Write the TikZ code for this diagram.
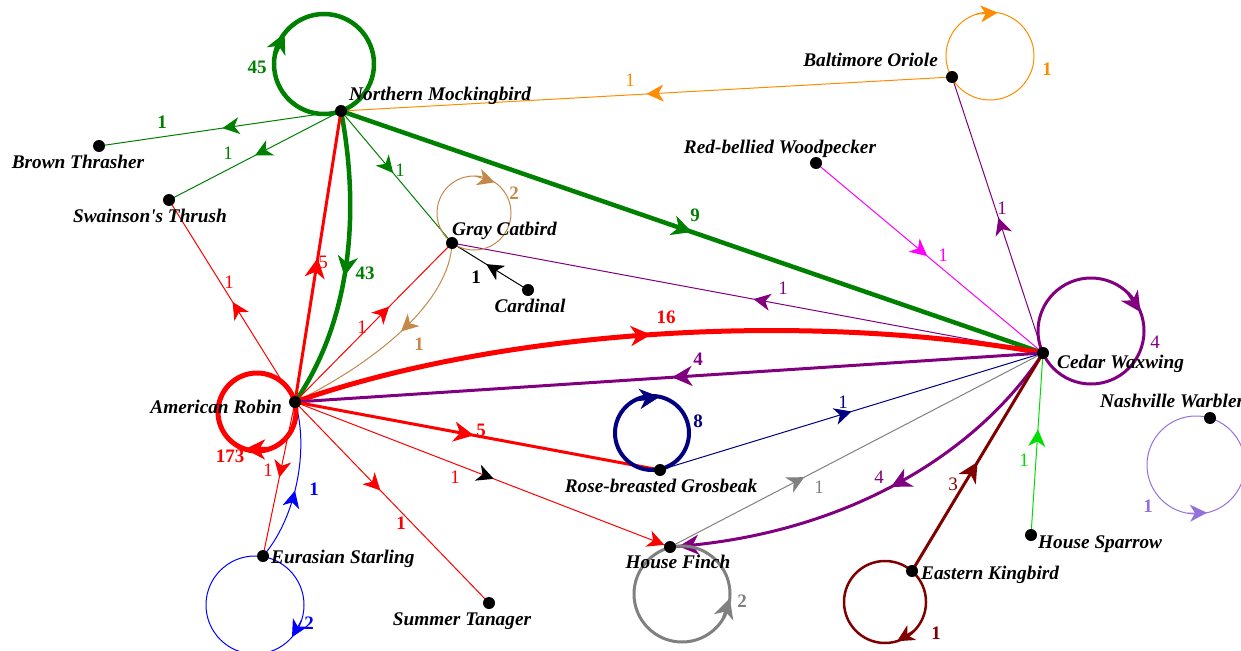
\documentclass[tikz,border=0pt]{standalone}
\usepackage{fontspec}
\setmainfont{Liberation Serif}
\usetikzlibrary{arrows.meta,decorations.markings}
\pgfdeclarelayer{bg}
\pgfsetlayers{bg,main}
\definecolor{cgreen}{HTML}{008000}
\definecolor{cred}{HTML}{FF0000}
\definecolor{corange}{HTML}{FF8C00}
\definecolor{cpurple}{HTML}{800080}
\definecolor{cmagenta}{HTML}{FF00FF}
\definecolor{cnavy}{HTML}{000080}
\definecolor{ctan}{HTML}{C4884A}
\definecolor{cgray}{HTML}{808080}
\definecolor{cmaroon}{HTML}{800000}
\definecolor{clime}{HTML}{00DD00}
\definecolor{cmpurple}{HTML}{9370DB}
\definecolor{cblue}{HTML}{0000FF}
\tikzset{
  dot/.style={circle,fill=black,inner sep=0pt,minimum size=12pt},
  nlab/.style={font=\bfseries\itshape\fontsize{19.3}{21}\selectfont,inner sep=0pt},
  elab/.style={font=\fontsize{19}{21}\selectfont,inner sep=0pt},
  belab/.style={font=\bfseries\fontsize{19}{21}\selectfont,inner sep=0pt},
  lw1/.style={line width=1pt},
  ma/.style={postaction={decorate},decoration={markings,mark=at position #1 with {\arrow{Stealth[length=17pt,width=17pt,inset=5pt]}}}},
  mab/.style={postaction={decorate},decoration={markings,mark=at position #1 with {\arrow{Stealth[length=20pt,width=20pt,inset=6pt]}}}},
  lar/.style={-{Stealth[length=17pt,width=17pt,inset=5pt]}},
  larb/.style={-{Stealth[length=20pt,width=20pt,inset=6pt]}}
}
\begin{document}
\begin{tikzpicture}[x=1pt,y=-1pt]
\useasboundingbox (0,0) rectangle (1241,650);
% nodes
\node[dot] (NM) at (341,111) {};
\node[dot] (BO) at (952,77) {};
\node[dot] (BT) at (99,146) {};
\node[dot] (ST) at (169,200) {};
\node[dot] (RBW) at (816,163) {};
\node[dot] (GC) at (452,243) {};
\node[dot] (CA) at (528,290) {};
\node[dot] (CW) at (1043,353) {};
\node[dot] (AR) at (295,402) {};
\node[dot] (NW) at (1210,418) {};
\node[dot] (RBG) at (660,470) {};
\node[dot] (HF) at (670,547) {};
\node[dot] (ES) at (263,556) {};
\node[dot] (HS) at (1031,535) {};
\node[dot] (EK) at (912,571) {};
\node[dot] (STn) at (489,603) {};
% node labels
\node[nlab,anchor=base west] (NMt) at (349,101) {Northern Mockingbird};
\node[nlab,anchor=base east] (BOt) at (938,67) {Baltimore Oriole};
\node[nlab,anchor=base] (BTt) at (78,168) {Brown Thrasher};
\node[nlab,anchor=base] (STt) at (150,222) {Swainson\textquotesingle s Thrush};
\node[nlab,anchor=base] (RBWt) at (780,153) {Red-bellied Woodpecker};
\node[nlab,anchor=base west] (GCt) at (452,235) {Gray Catbird};
\node[nlab,anchor=base] (CAt) at (530,312) {Cardinal};
\node[nlab,anchor=base west] (CWt) at (1057,368) {Cedar Waxwing};
\node[nlab,anchor=base west] (NWt) at (1100,407) {Nashville Warbler};
\node[nlab,anchor=base east] (ARt) at (282,413) {American Robin};
\node[nlab,anchor=base] (RBGt) at (661,492) {Rose-breasted Grosbeak};
\node[nlab,anchor=base] (HFt) at (678,568) {House Finch};
\node[nlab,anchor=base west] (ESt) at (271,563) {Eurasian Starling};
\node[nlab,anchor=base west] (HSt) at (1038,548) {House Sparrow};
\node[nlab,anchor=base west] (EKt) at (921,579) {Eastern Kingbird};
\node[nlab,anchor=base] (STnt) at (462,625) {Summer Tanager};
% loop centres
\coordinate (NMc) at ([shift={(-17,-47)}]NM.center);
\coordinate (BOc) at ([shift={(38,-21)}]BO.center);
\coordinate (GCc) at ([shift={(22,-30)}]GC.center);
\coordinate (RBGc) at ([shift={(-8,-37)}]RBG.center);
\coordinate (ARc) at ([shift={(-38,10)}]AR.center);
\coordinate (ESc) at ([shift={(-8,49)}]ES.center);
\coordinate (HFc) at ([shift={(12,47)}]HF.center);
\coordinate (EKc) at ([shift={(-27,31)}]EK.center);
\coordinate (CWc) at ([shift={(48,-22)}]CW.center);
\coordinate (NWc) at ([shift={(-14,47)}]NW.center);
\begin{pgfonlayer}{bg}
% edges
\draw[cgreen,lw1,ma=0.49] (NM.center) -- (BT.center);
\draw[cgreen,lw1,ma=0.50] (NM.center) -- (ST.center);
\draw[cgreen,lw1,ma=0.47] (NM.center) -- (GC.center);
\draw[cgreen,line width=4.5pt,mab=0.50] (NM.center) -- (CW.center);
\draw[cgreen,line width=4.5pt,mab=0.55] (NM.center) .. controls (360,210) and (352,320) .. (AR.center);
\draw[cred,line width=3pt,mab=0.495] (AR.center) -- (NM.center);
\draw[corange,lw1,ma=0.50] (BO.center) -- (NM.center);
\draw[cpurple,lw1,ma=0.49] (CW.center) -- (BO.center);
\draw[cmagenta,lw1,ma=0.49] (RBW.center) -- (CW.center);
\draw[black,lw1,ma=0.55] (CA.center) -- (GC.center);
\draw[cpurple,lw1,ma=0.49] (CW.center) -- (GC.center);
\draw[cred,lw1,ma=0.60] (AR.center) -- (GC.center);
\draw[ctan,lw1,ma=0.45] (GC.center) .. controls (450,300) and (380,360) .. (AR.center);
\draw[cred,line width=5pt,mab=0.48] (AR.center) .. controls (500,330) and (800,310) .. (CW.center);
\draw[cpurple,line width=3pt,mab=0.496] (CW.center) -- (AR.center);
\draw[cred,line width=3pt,mab=0.49] (AR.center) -- (RBG.center);
\draw[cnavy,lw1,ma=0.50] (RBG.center) -- (CW.center);
\draw[cred,lw1,postaction={decorate},decoration={markings,
  mark=at position 0.53 with {\arrow[black]{Stealth[length=17pt,width=17pt,inset=5pt]}},
  mark=at position 0.985 with {\arrow{Stealth[length=17pt,width=17pt,inset=5pt]}}}]
  (AR.center) -- (HF.center);
\draw[cred,lw1,ma=0.49] (AR.center) -- (ES.center);
\draw[cblue,lw1,ma=0.45] (ES.center) .. controls (295,520) and (310,450) .. (AR.center);
\draw[cred,lw1,ma=0.495] (AR.center) -- (ST.center);
\draw[cred,lw1,ma=0.44] (AR.center) -- (STn.center);
\draw[cgray,lw1,ma=0.36] (HF.center) -- (CW.center);
\draw[cpurple,line width=3pt,postaction={decorate},decoration={markings,
  mark=at position 0.47 with {\arrow{Stealth[length=20pt,width=20pt,inset=6pt]}},
  mark=at position 0.98 with {\arrow{Stealth[length=20pt,width=20pt,inset=6pt]}}}]
  (CW.center) .. controls (980,450) and (850,535) .. (HF.center);
\draw[cmaroon,line width=3pt,mab=0.50] (EK.center) -- (CW.center);
\draw[clime,lw1,ma=0.58] (HS.center) -- (CW.center);
% self loops
\draw[cgreen,line width=4.5pt] (NMc) circle[radius=50];
\draw[cgreen,line width=4.5pt,larb] ([shift={(192:50)}]NMc) -- ([shift={(218:50)}]NMc);
\draw[corange,lw1] (BOc) circle[radius=44];
\draw[corange,lw1,lar] ([shift={(252:44)}]BOc) -- ([shift={(280:44)}]BOc);
\draw[ctan,lw1] (GCc) circle[radius=37];
\draw[ctan,lw1,lar] ([shift={(272:37)}]GCc) -- ([shift={(304:37)}]GCc);
\draw[cnavy,line width=4pt] (RBGc) circle[radius=37];
\draw[cnavy,line width=4pt,larb] ([shift={(246:37)}]RBGc) -- ([shift={(282:37)}]RBGc);
\draw[cred,line width=5pt] (ARc) circle[radius=39];
\draw[cred,line width=5pt,larb] ([shift={(74:39)}]ARc) -- ([shift={(108:39)}]ARc);
\draw[cblue,lw1] (ESc) circle[radius=49];
\draw[cblue,lw1,lar] ([shift={(18:49)}]ESc) -- ([shift={(41:49)}]ESc);
\draw[cgray,line width=3pt] (HFc) circle[radius=48];
\draw[cgray,line width=3pt,larb] ([shift={(31:48)}]HFc) -- ([shift={(5:48)}]HFc);
\draw[cmaroon,line width=2.5pt] (EKc) circle[radius=41];
\draw[cmaroon,line width=2.5pt,lar] ([shift={(46:41)}]EKc) -- ([shift={(73:41)}]EKc);
\draw[cpurple,line width=3pt] (CWc) circle[radius=53];
\draw[cpurple,line width=3pt,larb] ([shift={(314:53)}]CWc) -- ([shift={(339:53)}]CWc);
\draw[cmpurple,lw1] (NWc) circle[radius=49];
\draw[cmpurple,lw1,lar] ([shift={(100:49)}]NWc) -- ([shift={(77:49)}]NWc);
\end{pgfonlayer}
% edge labels
\node[belab,text=cgreen] (e1) at (257,67) {45};
\node[belab,text=cgreen] (e2) at (162,122) {1};
\node[elab,text=cgreen] (e3) at (228,153) {1};
\node[elab,text=cgreen] (e4) at (400,170) {1};
\node[belab,text=cgreen] (e5) at (695,215) {9};
\node[belab,text=cgreen] (e6) at (365,273) {43};
\node[elab,text=cred] (e7) at (323,262) {5};
\node[elab,text=corange] (e8) at (630,80) {1};
\node[belab,text=corange] (e9) at (1047,69) {1};
\node[elab,text=cpurple] (e10) at (1002,208) {1};
\node[elab,text=cmagenta] (e11) at (943,255) {1};
\node[belab,text=ctan] (e12) at (514,193) {2};
\node[belab,text=black] (e13) at (476,277) {1};
\node[elab,text=cpurple] (e14) at (783,288) {1};
\node[elab,text=cred] (e15) at (362,327) {1};
\node[belab,text=ctan] (e16) at (419,344) {1};
\node[belab,text=cred] (e17) at (666,317) {16};
\node[belab,text=cpurple] (e18) at (698,359) {4};
\node[belab,text=cred] (e19) at (481,430) {5};
\node[belab,text=cnavy] (e20) at (698,421) {8};
\node[elab,text=cnavy] (e21) at (843,402) {1};
\node[elab,text=cred] (e22) at (455,477) {1};
\node[belab,text=cred] (e23) at (230,456) {173};
\node[elab,text=cred] (e24) at (268,470) {1};
\node[belab,text=cblue] (e25) at (314,489) {1};
\node[belab,text=cblue] (e26) at (309,623) {2};
\node[elab,text=cred] (e27) at (229,282) {1};
\node[belab,text=cred] (e28) at (401,523) {1};
\node[belab,text=cgray] (e29) at (742,601) {2};
\node[elab,text=cgray] (e30) at (819,487) {1};
\node[elab,text=cpurple] (e31) at (879,477) {4};
\node[elab,text=cmaroon] (e32) at (953,484) {3};
\node[belab,text=cmaroon] (e33) at (936,633) {1};
\node[elab,text=clime] (e34) at (1024,460) {1};
\node[elab,text=cpurple] (e35) at (1155,342) {4};
\node[belab,text=cmpurple] (e36) at (1148,506) {1};
\end{tikzpicture}
\end{document}
